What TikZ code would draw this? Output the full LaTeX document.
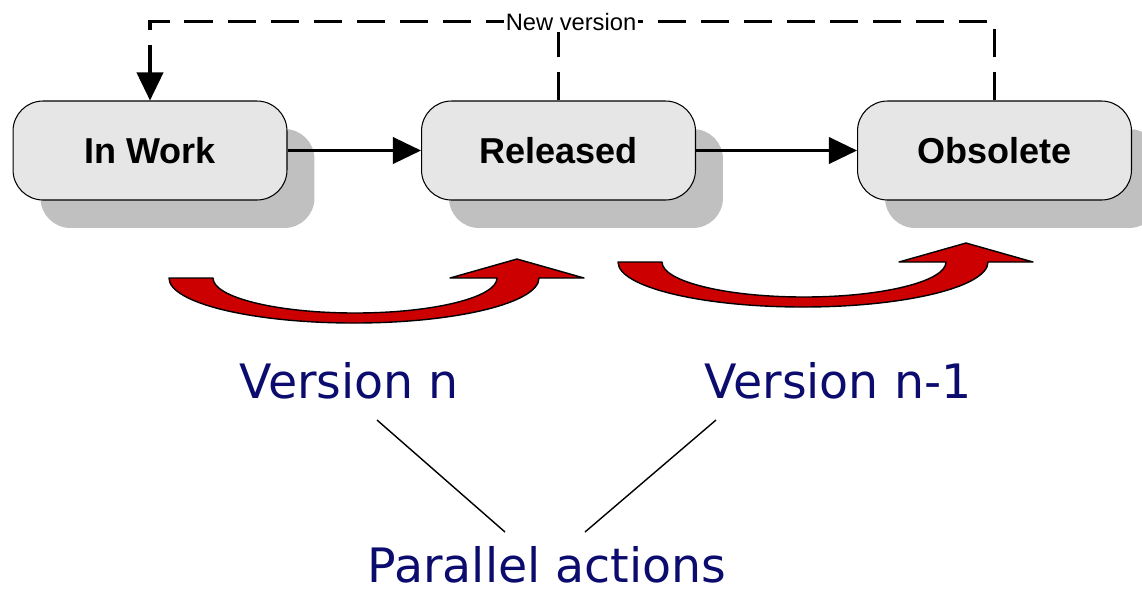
\documentclass[tikz,border=0pt]{standalone}
\usepackage{fontspec}
\setmainfont{Liberation Sans}
\newfontfamily\verdanafont{DejaVu Sans}
\usetikzlibrary{arrows.meta,shadows}
\definecolor{boxgray}{RGB}{230,230,230}
\definecolor{shadowgray}{RGB}{192,192,192}
\definecolor{arrowred}{RGB}{204,0,0}
\definecolor{versionblue}{RGB}{12,12,110}
\tikzset{
  stagebox/.style={draw, line width=0.6pt, rounded corners=0.6cm, fill=boxgray,
    minimum width=5.48cm, minimum height=1.98cm,
    font=\fontsize{20.5}{24}\selectfont\bfseries,
    drop shadow={shadow xshift=0.55cm, shadow yshift=-0.56cm, fill=shadowgray, opacity=1}},
  flow/.style={line width=1.7pt, -{Triangle[length=16pt,width=15pt]}},
  feedback/.style={line width=1.8pt, dash pattern=on 16pt off 8.5pt},
  bigarrow/.style={draw=black, line width=0.8pt, fill=arrowred, line join=round},
  versiontext/.style={text=versionblue, font=\verdanafont\fontsize{27}{30}\selectfont,
    anchor=base, inner sep=0pt}
}
\begin{document}
\begin{tikzpicture}[x=0.02cm,y=-0.02cm]
\useasboundingbox (0,0) rectangle (1142,593);
% life cycle states
\node[stagebox] (inwork) at (150,150.5) {In Work};
\node[stagebox] (released) at (558.5,150.5) {Released};
\node[stagebox] (obsolete) at (994.5,150.5) {Obsolete};
\draw[flow] (inwork) -- (released);
\draw[flow] (released) -- (obsolete);
% new version loop
\draw[feedback] (released.north) -- ++(0,-79);
\draw[feedback,-{Triangle[length=16pt,width=15pt]}] (obsolete.north) -- ++(0,-79) -| (inwork.north);
\node[fill=white, inner sep=1pt, font=\fontsize{13.5}{16}\selectfont] (newver) at (571,22) {New version};
% red version arrows
\foreach \x/\y in {169/278, 618/262}
  \draw[bigarrow] (\x,\y) arc[start angle=180, end angle=0, x radius=185, y radius=45]
    -- ++(45,0) -- ++(-67,-19) -- ++(-67,19) -- ++(47,0)
    arc[start angle=0, end angle=180, x radius=142, y radius=35] -- cycle;
% versions
\node[versiontext] (vern) at (349,398) {Version n};
\node[versiontext] (vernm) at (838,398) {Version n-1};
\node[versiontext] (parallel) at (547,582) {Parallel actions};
\coordinate (vn-foot) at (377,420);
\coordinate (vnm-foot) at (716,420);
\coordinate (pa-left) at (505,532);
\coordinate (pa-right) at (585,532);
\draw[line width=0.8pt] (vn-foot) -- (pa-left);
\draw[line width=0.8pt] (vnm-foot) -- (pa-right);
\end{tikzpicture}
\end{document}
